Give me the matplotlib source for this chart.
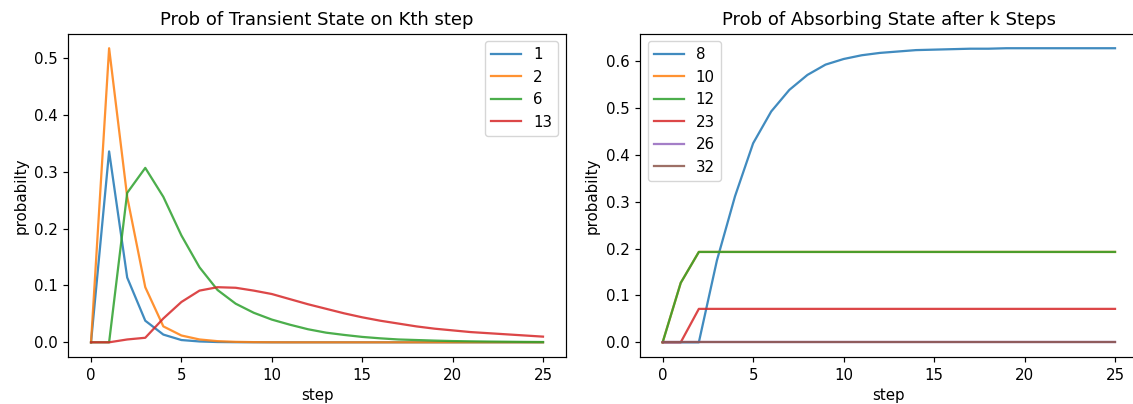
import matplotlib.pyplot as plt
import numpy as np

steps = np.arange(26)

# transient states: prob of being in state on kth step
transient_labels = ["1", "2", "6", "13"]
p_1 = [0, 0.336, 0.114, 0.038, 0.0136, 0.004, 0.0015, 0.0005, 0.0002, 0.0001,
       0, 0, 0, 0, 0, 0, 0, 0, 0, 0, 0, 0, 0, 0, 0, 0]
p_2 = [0, 0.5176, 0.256, 0.097, 0.028, 0.012, 0.005, 0.002, 0.0008, 0.0003,
       0.0001, 0, 0, 0, 0, 0, 0, 0, 0, 0, 0, 0, 0, 0, 0, 0]
p_6 = [0, 0, 0.263, 0.307, 0.256, 0.188, 0.132, 0.092, 0.068, 0.052,
       0.040, 0.031, 0.023, 0.017, 0.013, 0.0095, 0.007, 0.005, 0.004, 0.003,
       0.0022, 0.0017, 0.0013, 0.001, 0.0007, 0.0005]
p_13 = [0, 0, 0.005, 0.008, 0.042, 0.071, 0.091, 0.097, 0.096, 0.091,
        0.085, 0.076, 0.067, 0.059, 0.051, 0.044, 0.038, 0.033, 0.028, 0.024,
        0.021, 0.018, 0.016, 0.014, 0.012, 0.010]

# absorbing states: prob of being absorbed after k steps
absorb_labels = ["8", "10", "12", "23", "26", "32"]
a_8 = [0, 0, 0, 0.175, 0.312, 0.425, 0.493, 0.539, 0.571, 0.593,
       0.605, 0.613, 0.618, 0.621, 0.624, 0.625, 0.626, 0.627, 0.627, 0.628,
       0.628, 0.628, 0.628, 0.628, 0.628, 0.628]
a_10 = [0, 0.127] + [0.193] * 24
a_12 = [0, 0.127] + [0.193] * 24
a_23 = [0, 0] + [0.0714] * 24
a_26 = [0] * 26
a_32 = [0] * 26

fig = plt.figure(figsize=(11.33, 4.04), dpi=100)
ax1 = fig.add_axes([0.0604, 0.1163, 0.4388, 0.8007])
ax2 = fig.add_axes([0.5649, 0.1163, 0.4392, 0.8007])

fs = 10.8
lw = 1.62

for vals, lab in zip([p_1, p_2, p_6, p_13], transient_labels):
    ax1.plot(steps, vals, label=lab, linewidth=lw, alpha=0.85)
ax1.set_title("Prob of Transient State on Kth step", fontsize=13, pad=6.5)
ax1.set_xlabel("step", fontsize=fs)
ax1.set_ylabel("probabilty", fontsize=fs)
ax1.legend(loc="upper right", fontsize=fs)

for vals, lab in zip([a_8, a_10, a_12, a_23, a_26, a_32], absorb_labels):
    ax2.plot(steps, vals, label=lab, linewidth=lw, alpha=0.85)
ax2.set_title("Prob of Absorbing State after k Steps", fontsize=13, pad=6.5)
ax2.set_xlabel("step", fontsize=fs)
ax2.set_ylabel("probabilty", fontsize=fs)
ax2.legend(loc="upper left", fontsize=fs)

for ax in (ax1, ax2):
    ax.tick_params(labelsize=fs, length=3.8, width=0.86, pad=3.8)
    for sp in ax.spines.values():
        sp.set_linewidth(0.86)

fig.savefig("out.png", dpi=100)
